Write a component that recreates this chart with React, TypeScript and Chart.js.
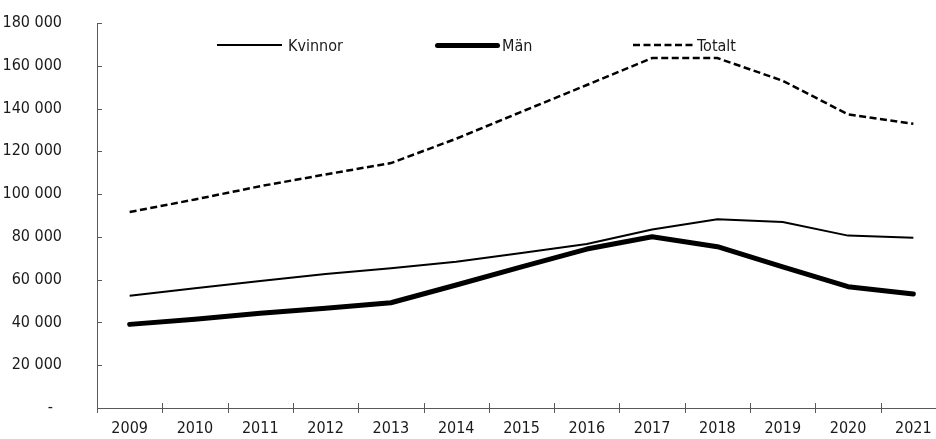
import React, { useEffect, useRef } from "react";
import { Chart, registerables } from "chart.js";

Chart.register(...registerables);

const years = ["2009", "2010", "2011", "2012", "2013", "2014", "2015", "2016", "2017", "2018", "2019", "2020", "2021"];
const kvinnor = [52500, 56000, 59400, 62600, 65300, 68400, 72500, 76700, 83500, 88200, 87000, 80600, 79600];
const man = [39100, 41500, 44300, 46600, 49200, 57500, 66000, 74300, 80100, 75400, 66000, 56700, 53300];
const totalt = [91600, 97500, 103700, 109200, 114500, 125900, 138500, 151000, 163600, 163600, 153000, 137300, 132900];
const yMax = 180000;
const yStep = 20000;

const FONT = "'DejaVu Sans Condensed', 'Liberation Sans Narrow', 'Roboto Condensed', sans-serif";
const FONT_SIZE = 16;
const AXIS = "#595959";
const TEXT = "#1a1a1a";

function fmt(v: number): string {
  if (v === 0) return "-  ";
  return String(v).replace(/\B(?=(\d{3})+(?!\d))/g, " ");
}

const tickPlugin = {
  id: "axisTicks",
  afterDraw(chart: any) {
    const { ctx, chartArea, scales } = chart;
    const x = scales.x;
    const y = scales.y;
    ctx.save();
    ctx.strokeStyle = AXIS;
    ctx.lineWidth = 1;
    ctx.beginPath();
    y.ticks.forEach((t: any) => {
      const py = Math.round(y.getPixelForValue(t.value)) + 0.5;
      ctx.moveTo(chartArea.left, py);
      ctx.lineTo(chartArea.left + 5, py);
    });
    const n = x.ticks.length;
    const half = (x.getPixelForValue(1) - x.getPixelForValue(0)) / 2;
    for (let i = 0; i <= n; i++) {
      const px = Math.round(x.getPixelForValue(i) - half) + 0.5;
      ctx.moveTo(px, chartArea.bottom - 5);
      ctx.lineTo(px, chartArea.bottom + 5);
    }
    ctx.stroke();
    ctx.restore();
  },
};

export default function App() {
  const ref = useRef<HTMLCanvasElement>(null);

  useEffect(() => {
    if (!ref.current) return;
    const chart = new Chart(ref.current, {
      type: "line",
      data: {
        labels: years,
        datasets: [
          {
            label: "Kvinnor",
            data: kvinnor,
            borderColor: "#000",
            borderWidth: 2,
            pointRadius: 0,
            tension: 0,
            borderJoinStyle: "round",
          },
          {
            label: "Män",
            data: man,
            borderColor: "#000",
            borderWidth: 5,
            pointRadius: 0,
            tension: 0,
            borderCapStyle: "round",
            borderJoinStyle: "round",
          },
          {
            label: "Totalt",
            data: totalt,
            borderColor: "#000",
            borderWidth: 2.5,
            borderDash: [7, 3.5],
            pointRadius: 0,
            tension: 0,
          },
        ],
      },
      options: {
        responsive: false,
        animation: false,
        layout: { padding: { top: 23, right: 14, bottom: 0, left: 0 } },
        plugins: {
          legend: { display: false },
          tooltip: { enabled: false },
        },
        scales: {
          x: {
            offset: true,
            grid: { display: false, drawTicks: true, tickLength: 11 },
            border: { display: true, color: AXIS, width: 1 },
            ticks: {
              color: TEXT,
              padding: 0,
              maxRotation: 0,
              autoSkip: false,
              font: { family: FONT, size: FONT_SIZE },
            },
            afterFit(scale: any) {
              scale.height = 31;
            },
          },
          y: {
            min: 0,
            max: yMax,
            grid: { display: false, drawTicks: true, tickLength: 35 },
            border: { display: true, color: AXIS, width: 1 },
            ticks: {
              stepSize: yStep,
              color: TEXT,
              padding: 0,
              font: { family: FONT, size: FONT_SIZE },
              callback: (v: any) => fmt(Number(v)),
            },
            afterFit(scale: any) {
              scale.width = 97;
            },
          },
        },
      },
      plugins: [tickPlugin],
    } as any);
    return () => chart.destroy();
  }, []);

  const textStyle: React.CSSProperties = {
    position: "absolute",
    top: 37,
    fontFamily: FONT,
    fontSize: FONT_SIZE,
    lineHeight: "17px",
    color: TEXT,
    whiteSpace: "nowrap",
  };

  return (
    <div style={{ position: "fixed", left: 0, top: 0, width: 936, height: 439, overflow: "hidden", background: "#fff" }}>
      <canvas ref={ref} width={960} height={439} style={{ display: "block", width: 960, height: 439 }} />
      <div style={{ position: "absolute", left: 217, top: 44, width: 65, height: 2, background: "#000" }} />
      <span style={{ ...textStyle, left: 288 }}>Kvinnor</span>
      <div style={{ position: "absolute", left: 435, top: 42.5, width: 65, height: 5, borderRadius: 3, background: "#000" }} />
      <span style={{ ...textStyle, left: 502 }}>Män</span>
      <svg style={{ position: "absolute", left: 630, top: 40, width: 66, height: 10 }} width={66} height={10}>
        <line x1={3} y1={5} x2={64} y2={5} stroke="#000" strokeWidth={2.5} strokeDasharray="7 3.5" />
      </svg>
      <span style={{ ...textStyle, left: 697 }}>Totalt</span>
    </div>
  );
}
